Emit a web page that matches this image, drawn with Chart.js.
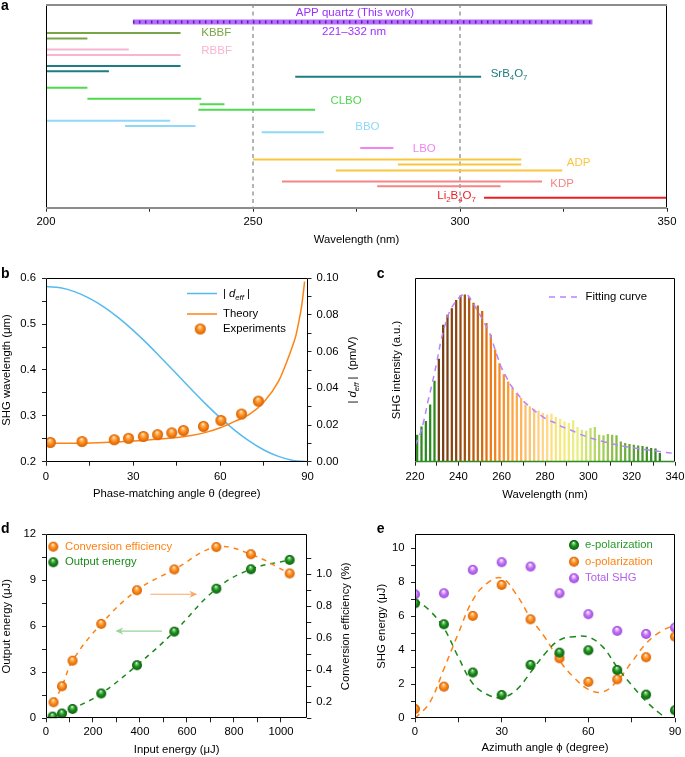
<!DOCTYPE html>
<html>
<head>
<meta charset="utf-8">
<script src="https://cdn.jsdelivr.net/npm/chart.js@4.4.1/dist/chart.umd.min.js"></script>
<style>
  body { margin: 0; background: #fff; }
  #wrap { position: relative; width: 685px; height: 757px; background: #fff; }
  canvas { position: absolute; }
</style>
</head>
<body>
<div id="wrap">
  <canvas id="chartA" width="685" height="250" style="left:0;top:0"></canvas>
  <canvas id="chartB" width="370" height="255" style="left:0;top:250px"></canvas>
  <canvas id="chartC" width="315" height="255" style="left:370px;top:250px"></canvas>
  <canvas id="chartD" width="370" height="252" style="left:0;top:505px"></canvas>
  <canvas id="chartE" width="315" height="252" style="left:370px;top:505px"></canvas>
</div>
<script>
// ---- panel a: phase-matching ranges (nm) ----
const crystalNames = ['KBBF', 'RBBF', 'SrB_4O_7', 'CLBO', 'BBO', 'LBO', 'ADP', 'KDP', 'Li_2B_4O_7'];
const segCrystal = [0, 0, 1, 1, 2, 2, 2, 3, 3, 3, 3, 4, 4, 4, 5, 6, 6, 6, 7, 7, 8];
const segStart = [200, 200, 200, 200, 200, 200, 260.2, 200, 210, 237.1, 236.8, 200, 219.1, 252.1, 275.9, 250, 285, 270, 257, 280, 305.8];
const segEnd = [232.5, 210, 220, 232.5, 232.5, 215.2, 305.1, 210, 237.5, 243.1, 265, 230, 236.1, 267.1, 283.9, 314.8, 314.8, 324.7, 319.8, 309.8, 350];
const segRow = [5.3, 6.3, 8.3, 9.3, 11.3, 12.3, 13.3, 15.3, 17.3, 18.3, 19.3, 21.3, 22.3, 23.4, 26.3, 28.4, 29.3, 30.4, 32.4, 33.3, 35.4];
const labelX = [237.5, 237.5, 307.4, 268.7, 274.7, 288.6, 325.8, 321.8, 294.5];
const labelRow = [5.3, 8.5, 12.8, 17.7, 22.4, 26.4, 29.0, 32.9, 35.1];
const appRange = [221, 332];
const appRow = 3.3;
const refLines = [250, 300];

// ---- panel b ----
const deffTheta = [0, 5, 10, 15, 20, 25, 30, 35, 40, 45, 50, 55, 60, 65, 70, 75, 80, 85, 90];
const deffVals = [0.0955, 0.0948, 0.0926, 0.0891, 0.0843, 0.0784, 0.0716, 0.0641, 0.056, 0.0478, 0.0395, 0.0314, 0.0239, 0.0171, 0.0112, 0.0064, 0.0029, 0.0007, 0];
const theoryTheta = [0, 10, 20, 30, 40, 45, 50, 55, 60, 65, 70, 75, 80, 83, 85, 86, 87, 88, 88.5, 89];
const theoryWl = [0.240, 0.240, 0.242, 0.245, 0.250, 0.253, 0.257, 0.264, 0.274, 0.288, 0.303, 0.330, 0.375, 0.420, 0.455, 0.475, 0.505, 0.540, 0.565, 0.593];
const expTheta = [1.5, 12.4, 23.5, 28.4, 33.5, 38.4, 43.3, 47.3, 54.2, 60.2, 67.3, 73.1];
const expWl = [0.242, 0.244, 0.248, 0.251, 0.255, 0.259, 0.263, 0.268, 0.277, 0.290, 0.304, 0.332];

// ---- panel c ----
const peakWl = [221, 223, 225, 227, 229, 231, 233, 235, 237, 239, 241, 243, 245, 247, 249, 251, 253, 255, 257, 259,
  261, 263, 265, 267, 269, 271, 273, 275, 277, 279, 281, 283, 285, 287, 289, 291, 293, 295, 297, 299,
  301, 303, 305, 307, 309, 311, 313, 315, 317, 319, 321, 323, 325, 327, 329, 331, 333];
const peakVal = [0.145, 0.19, 0.22, 0.31, 0.44, 0.56, 0.745, 0.80, 0.835, 0.88, 0.905, 0.91, 0.895, 0.865, 0.85, 0.82, 0.755, 0.69, 0.61, 0.535,
  0.475, 0.435, 0.40, 0.372, 0.345, 0.31, 0.30, 0.287, 0.278, 0.265, 0.255, 0.26, 0.242, 0.233, 0.218, 0.209, 0.224, 0.188, 0.173, 0.167,
  0.182, 0.187, 0.145, 0.142, 0.149, 0.145, 0.142, 0.109, 0.10, 0.095, 0.091, 0.087, 0.084, 0.08, 0.073, 0.07, 0.045];
const fitWl = [220, 222, 224, 226, 228, 230, 232, 234, 236, 238, 240, 242, 244, 246, 248, 250, 252, 254, 256, 258, 260, 262, 264, 266, 268, 270,
  273, 276, 279, 282, 285, 288, 291, 295, 299, 303, 307, 312, 317, 322, 327, 332, 336, 340];
const fitVal = [0.09, 0.14, 0.22, 0.33, 0.43, 0.54, 0.66, 0.75, 0.82, 0.86, 0.89, 0.91, 0.91, 0.88, 0.84, 0.80, 0.755, 0.715, 0.645, 0.575, 0.51, 0.465, 0.42, 0.39, 0.36, 0.33,
  0.30, 0.27, 0.245, 0.225, 0.21, 0.19, 0.178, 0.155, 0.137, 0.122, 0.109, 0.095, 0.083, 0.073, 0.065, 0.057, 0.05, 0.045];

// ---- panel d ----
const effInput = [32, 68, 113, 235, 387, 546, 725, 872, 1037];
const efficiency = [0.20, 0.30, 0.46, 0.69, 0.90, 1.03, 1.17, 1.125, 1.005];
const outInput = [28, 68, 113, 235, 387, 546, 725, 872, 1037];
const outputEnergy = [0.11, 0.31, 0.61, 1.62, 3.46, 5.65, 8.45, 9.72, 10.33];
const effArrow = [[444, 8.09], [644, 8.09]];
const outArrow = [[494, 5.69], [295, 5.69]];

// ---- panel e ----
const phi = [0, 10, 20, 30, 40, 50, 60, 70, 80, 90];
const ePol = [6.76, 5.53, 2.69, 1.37, 3.14, 3.86, 4.0, 2.84, 1.39, 0.47];
const oPol = [0.55, 1.86, 6.02, 7.84, 5.82, 3.53, 2.14, 2.29, 3.59, 4.8];
const totalShg = [7.29, 7.35, 8.73, 9.18, 8.92, 7.35, 6.12, 5.14, 4.96, 5.33];
const eFitPhi = [0, 5, 10, 15, 20, 25, 30, 35, 40, 45, 50, 55, 60, 65, 70, 75, 80, 85, 87];
const eFitVal = [7.0, 6.35, 5.3, 3.6, 2.05, 1.4, 1.22, 1.65, 2.7, 3.8, 4.6, 4.8, 4.78, 4.2, 3.0, 1.95, 1.0, 0.25, 0];
const oFitPhi = [0, 5, 10, 15, 20, 25, 30, 35, 40, 45, 50, 55, 60, 65, 70, 75, 80, 85, 90];
const oFitVal = [0, 0.9, 2.9, 5.0, 6.95, 7.95, 8.25, 7.3, 5.9, 4.75, 3.4, 2.4, 1.7, 1.55, 2.2, 3.3, 4.4, 5.1, 5.5];

// ---- styling ----
const FONT = "'Liberation Sans', Arial, Helvetica, sans-serif";
const FS = 11.3;
Chart.defaults.font.family = FONT;
Chart.defaults.font.size = FS;
Chart.defaults.color = '#000';
Chart.defaults.animation = false;
Chart.defaults.responsive = false;
Chart.defaults.plugins.legend.display = false;
Chart.defaults.plugins.tooltip.enabled = false;

const crystalColors = ['#7aa546', '#f9b4d0', '#1d7d80', '#4ed94e', '#8fd8f8', '#ef86ef', '#f9c640', '#f58585', '#ee1c24'];
const ORANGE = '#ff8214';
const GREEN = '#1a8a1a';
const PURPLE = '#b560ee';

function makeBall(base, light, dark, r) {
  const c = document.createElement('canvas');
  const s = Math.ceil(2 * r + 2);
  c.width = c.height = s;
  const g = c.getContext('2d');
  const cx = s / 2, cy = s / 2;
  const grad = g.createRadialGradient(cx - r * 0.1, cy - r * 0.5, 0, cx, cy + r * 0.1, r * 1.05);
  grad.addColorStop(0, '#ffffff');
  grad.addColorStop(0.2, light);
  grad.addColorStop(0.5, base);
  grad.addColorStop(1, dark);
  g.fillStyle = grad;
  g.beginPath();
  g.arc(cx, cy, r, 0, Math.PI * 2);
  g.fill();
  return c;
}
const ballOrangeB = makeBall('#ff8c1a', '#ffc27a', '#cc5800', 5.5);
const ballOrange = makeBall('#ff8c1a', '#ffc27a', '#cc5800', 5);
const ballGreen = makeBall('#1b8f1b', '#7ccf7c', '#0a560a', 5);
const ballPurple = makeBall('#c273f5', '#ecc8ff', '#9444d4', 5);

function isMult(v, m) {
  const q = v / m;
  return Math.abs(q - Math.round(q)) < 1e-6;
}

// linear axis with outward ticks, minor ticks every `step`, labels every `major`
function axis(o) {
  const show = o.ticks !== false;
  return {
    type: 'linear', position: o.position, min: o.min, max: o.max, reverse: !!o.reverse, offset: false,
    border: { display: false },
    grid: { display: show, drawOnChartArea: false, drawTicks: show, tickLength: 4, tickColor: '#222', tickWidth: 1, offset: false },
    ticks: show ? {
      stepSize: o.step, autoSkip: false, maxRotation: 0, minRotation: 0, padding: o.pad, color: '#000',
      callback: v => isMult(v, o.major) ? o.fmt(v) : ''
    } : { display: false },
    afterBuildTicks: s => { if (show) s.ticks = s.ticks.filter(t => isMult(t.value, o.step)); },
    title: o.title ? { display: true, text: o.title, color: '#000', padding: o.titlePad } : { display: false },
    afterFit: s => {
      if (s.isHorizontal()) s.height = o.size; else s.width = o.size;
      s.paddingLeft = 0; s.paddingRight = 0; s.paddingTop = 0; s.paddingBottom = 0;
    }
  };
}

function pts(xs, ys) {
  return xs.map((x, i) => ({ x: x, y: ys[i] }));
}

// text helpers
function subParts(str) {
  const parts = [];
  for (let i = 0; i < str.length; i++) {
    if (str[i] === '_') { parts.push({ t: str[i + 1], sub: true }); i++; }
    else if (parts.length && !parts[parts.length - 1].sub) parts[parts.length - 1].t += str[i];
    else parts.push({ t: str[i] });
  }
  return parts;
}
function partFont(p, size) {
  return (p.it ? 'italic ' : '') + (p.sub ? size * 0.68 : size) + 'px ' + FONT;
}
function drawParts(ctx, parts, x, y, size, color, align) {
  ctx.save();
  ctx.fillStyle = color;
  ctx.textBaseline = 'middle';
  ctx.textAlign = 'left';
  let w = 0;
  const ws = parts.map(p => { ctx.font = partFont(p, size); const m = ctx.measureText(p.t).width; w += m; return m; });
  let cx = align === 'center' ? x - w / 2 : x;
  parts.forEach((p, i) => {
    ctx.font = partFont(p, size);
    ctx.fillText(p.t, cx, p.sub ? y + size * 0.32 : y);
    cx += ws[i];
  });
  ctx.restore();
}
function drawRotated(ctx, parts, x, y, color) {
  ctx.save();
  ctx.translate(x, y);
  ctx.rotate(-Math.PI / 2);
  drawParts(ctx, parts, 0, 0, FS, color, 'center');
  ctx.restore();
}
function letter(ctx, t, x, y) {
  ctx.save();
  ctx.font = 'bold 14px ' + FONT;
  ctx.fillStyle = '#000';
  ctx.textBaseline = 'alphabetic';
  ctx.fillText(t, x, y);
  ctx.restore();
}
function frame(ctx, a, bottomColor) {
  const l = Math.round(a.left) + 0.5, r = Math.round(a.right) - 0.5;
  const t = Math.round(a.top) + 0.5, b = Math.round(a.bottom) - 0.5;
  ctx.save();
  ctx.lineWidth = 1;
  ctx.strokeStyle = '#000';
  ctx.beginPath();
  ctx.moveTo(l, b); ctx.lineTo(l, t); ctx.lineTo(r, t); ctx.lineTo(r, b);
  ctx.stroke();
  ctx.strokeStyle = bottomColor || '#000';
  ctx.lineWidth = bottomColor ? 1.5 : 1;
  ctx.beginPath();
  ctx.moveTo(l, b); ctx.lineTo(r, b);
  ctx.stroke();
  ctx.restore();
}
function legendLine(ctx, x1, x2, y, color, dash) {
  ctx.save();
  ctx.strokeStyle = color;
  ctx.lineWidth = 1.5;
  ctx.setLineDash(dash || []);
  ctx.beginPath();
  ctx.moveTo(x1, y); ctx.lineTo(x2, y);
  ctx.stroke();
  ctx.restore();
}
function legendText(ctx, t, x, y, color) {
  ctx.save();
  ctx.font = FS + 'px ' + FONT;
  ctx.fillStyle = color;
  ctx.textBaseline = 'middle';
  ctx.fillText(t, x, y);
  ctx.restore();
}
function ball(ctx, img, x, y) {
  ctx.drawImage(img, x - img.width / 2, y - img.height / 2);
}
const deffParts = [{ t: '| ' }, { t: 'd', it: true }, { t: 'eff', it: true, sub: true }, { t: ' |' }];

// ================= chart a =================
const aDatasets = [];
aDatasets.push({ data: pts(appRange, [appRow, appRow]), borderColor: '#5a1f9c', borderWidth: 3, borderDash: [1.5, 4.5], pointRadius: 0, showLine: true });
aDatasets.push({ data: pts(appRange, [appRow, appRow]), borderColor: '#b66cff', borderWidth: 5, pointRadius: 0, showLine: true });
segStart.forEach((s, i) => {
  aDatasets.push({
    data: pts([s, segEnd[i]], [segRow[i], segRow[i]]),
    borderColor: crystalColors[segCrystal[i]], borderWidth: 2, pointRadius: 0, showLine: true
  });
});
refLines.forEach(x => {
  aDatasets.push({ data: pts([x, x], [0, 37.2]), borderColor: '#6a6a6a', borderWidth: 1, borderDash: [4, 3.5], pointRadius: 0, showLine: true });
});

new Chart(document.getElementById('chartA'), {
  type: 'scatter',
  data: { datasets: aDatasets },
  options: {
    layout: { padding: { top: 4, right: 18, left: 0, bottom: 0 } },
    scales: {
      x: axis({ position: 'bottom', min: 200, max: 350, step: 25, major: 50, fmt: v => String(v), size: 42.3, pad: 3.5,
        title: 'Wavelength (nm)', titlePad: { top: 0, bottom: 3.2 } }),
      y: axis({ position: 'left', min: 0, max: 37.2, reverse: true, ticks: false, size: 46 })
    }
  },
  plugins: [{
    id: 'aExtras',
    afterDraw(chart) {
      const { ctx, chartArea: a, scales: { x, y } } = chart;
      ctx.save();
      ctx.lineWidth = 1;
      ctx.strokeStyle = '#000';
      ctx.beginPath();
      ctx.moveTo(Math.round(a.left) + 0.5, a.top); ctx.lineTo(Math.round(a.left) + 0.5, a.bottom);
      ctx.moveTo(Math.round(a.right) - 0.5, a.top); ctx.lineTo(Math.round(a.right) - 0.5, a.bottom);
      ctx.stroke();
      ctx.strokeStyle = '#8c8c8c';
      ctx.lineWidth = 2;
      ctx.beginPath();
      ctx.moveTo(a.left, Math.round(a.top) + 1); ctx.lineTo(a.right, Math.round(a.top) + 1);
      ctx.moveTo(a.left, Math.round(a.bottom)); ctx.lineTo(a.right, Math.round(a.bottom));
      ctx.stroke();
      ctx.restore();
      drawParts(ctx, [{ t: 'APP quartz (This work)' }], x.getPixelForValue(274.6), y.getPixelForValue(1.6), 11.5, '#9b30ff', 'center');
      drawParts(ctx, [{ t: '221\u2013332 nm' }], x.getPixelForValue(274.4), y.getPixelForValue(5.15), 11.5, '#9b30ff', 'center');
      crystalNames.forEach((n, i) => {
        drawParts(ctx, subParts(n), x.getPixelForValue(labelX[i]), y.getPixelForValue(labelRow[i]), 11.5, crystalColors[i], 'left');
      });
      letter(ctx, 'a', 1, 10);
    }
  }]
});

// ================= chart b =================
new Chart(document.getElementById('chartB'), {
  type: 'scatter',
  data: {
    datasets: [
      { data: pts(expTheta, expWl), yAxisID: 'y', pointStyle: ballOrangeB, pointRadius: 5.5, showLine: false },
      { data: pts(theoryTheta, theoryWl), yAxisID: 'y', borderColor: ORANGE, borderWidth: 1.5, pointRadius: 0, showLine: true, cubicInterpolationMode: 'monotone' },
      { data: pts(deffTheta, deffVals), yAxisID: 'y1', borderColor: '#55baf0', borderWidth: 1.5, pointRadius: 0, showLine: true, tension: 0.4 }
    ]
  },
  options: {
    layout: { padding: { top: 28.3, right: 0, left: 0, bottom: 0 } },
    scales: {
      x: axis({ position: 'bottom', min: 0, max: 90, step: 15, major: 30, fmt: v => String(v), size: 43.3, pad: 4.2,
        title: 'Phase-matching angle \u03b8 (degree)', titlePad: { top: 0, bottom: 4.2 } }),
      y: axis({ position: 'left', min: 0.2, max: 0.6, step: 0.05, major: 0.1, fmt: v => v.toFixed(1), size: 46, pad: 6,
        title: 'SHG wavelength (\u03bcm)', titlePad: { top: 0.2, bottom: 0 } }),
      y1: axis({ position: 'right', min: 0, max: 0.1, step: 0.01, major: 0.02, fmt: v => v.toFixed(2), size: 62.5, pad: 5 })
    }
  },
  plugins: [{
    id: 'bExtras',
    afterDraw(chart) {
      const { ctx, chartArea: a } = chart;
      frame(ctx, a);
      drawRotated(ctx, deffParts.concat([{ t: '  (pm/V)' }]), 353, (a.top + a.bottom) / 2, '#000');
      legendLine(ctx, 187, 217, 43.5, '#55baf0');
      drawParts(ctx, deffParts, 223, 44.3, FS, '#000', 'left');
      legendLine(ctx, 187, 217, 64, ORANGE);
      legendText(ctx, 'Theory', 223, 64, '#000');
      ball(ctx, ballOrangeB, 200.3, 79);
      legendText(ctx, 'Experiments', 223, 79, '#000');
      letter(ctx, 'b', 1, 28);
    }
  }]
});

// ================= chart c =================
const peakStops = [[221, '#2b8a1e'], [229.5, '#2b8a1e'], [230.5, '#6e3b12'], [239, '#8a4612'], [247, '#b85a0c'], [255, '#ee7a12'],
  [263, '#ff9a32'], [271, '#ffbd6a'], [279, '#ffd587'], [287, '#f8ea78'], [295, '#e6ef80'], [303, '#b8d865'], [311, '#8ec04a'],
  [321, '#5aa232'], [333, '#2f8020']];
function hexRgb(h) { return [1, 3, 5].map(i => parseInt(h.substr(i, 2), 16)); }
function colorAt(w) {
  for (let i = 0; i < peakStops.length - 1; i++) {
    const [w0, c0] = peakStops[i], [w1, c1] = peakStops[i + 1];
    if (w <= w1) {
      const f = Math.max(0, Math.min(1, (w - w0) / (w1 - w0)));
      const a = hexRgb(c0), b = hexRgb(c1);
      return 'rgb(' + a.map((v, k) => Math.round(v + (b[k] - v) * f)).join(',') + ')';
    }
  }
  return peakStops[peakStops.length - 1][1];
}

new Chart(document.getElementById('chartC'), {
  type: 'bar',
  data: {
    datasets: [
      { type: 'line', data: pts(fitWl, fitVal), borderColor: '#b884ff', borderWidth: 1.5, borderDash: [6, 5], pointRadius: 0, tension: 0.4 },
      { type: 'bar', data: pts(peakWl, peakVal), backgroundColor: peakWl.map(colorAt), barThickness: 1.6, borderWidth: 0 }
    ]
  },
  options: {
    layout: { padding: { top: 28.3, right: 10, left: 0, bottom: 0 } },
    scales: {
      x: axis({ position: 'bottom', min: 220, max: 340, step: 10, major: 20, fmt: v => String(v), size: 43.3, pad: 4.2,
        title: 'Wavelength (nm)', titlePad: { top: 0, bottom: 3.2 } }),
      y: axis({ position: 'left', min: 0, max: 1, ticks: false, size: 45, title: 'SHG intensity (a.u.)', titlePad: { top: 20.2, bottom: 0 } })
    }
  },
  plugins: [{
    id: 'cExtras',
    afterDraw(chart) {
      const { ctx, chartArea: a } = chart;
      frame(ctx, a, '#2e8a22');
      legendLine(ctx, 179, 208, 47, '#b884ff', [6, 5]);
      legendText(ctx, 'Fitting curve', 215.5, 47, '#000');
      letter(ctx, 'c', 6.7, 28.3);
    }
  }]
});

// ================= chart d =================
function arrow(ctx, xs, ys, from, to, color) {
  const x1 = xs.getPixelForValue(from[0]), y1 = ys.getPixelForValue(from[1]);
  const x2 = xs.getPixelForValue(to[0]), y2 = ys.getPixelForValue(to[1]);
  const dir = Math.sign(x2 - x1);
  ctx.save();
  ctx.strokeStyle = color;
  ctx.fillStyle = color;
  ctx.lineWidth = 1.2;
  ctx.beginPath();
  ctx.moveTo(x1, y1); ctx.lineTo(x2 - dir * 3, y2);
  ctx.stroke();
  ctx.beginPath();
  ctx.moveTo(x2, y2);
  ctx.lineTo(x2 - dir * 8, y2 - 3.5);
  ctx.lineTo(x2 - dir * 5.5, y2);
  ctx.lineTo(x2 - dir * 8, y2 + 3.5);
  ctx.closePath();
  ctx.fill();
  ctx.restore();
}

new Chart(document.getElementById('chartD'), {
  type: 'scatter',
  data: {
    datasets: [
      { data: pts(effInput, efficiency), yAxisID: 'y1', pointStyle: ballOrange, pointRadius: 5, showLine: false },
      { data: pts(outInput, outputEnergy), yAxisID: 'y', pointStyle: ballGreen, pointRadius: 5, showLine: false },
      { data: pts(effInput, efficiency), yAxisID: 'y1', borderColor: ORANGE, borderWidth: 1.5, borderDash: [5, 5], pointRadius: 0, showLine: true, tension: 0.4 },
      { data: pts(outInput, outputEnergy), yAxisID: 'y', borderColor: GREEN, borderWidth: 1.5, borderDash: [5, 5], pointRadius: 0, showLine: true, tension: 0.4 }
    ]
  },
  options: {
    layout: { padding: { top: 29.3, right: 0, left: 0, bottom: 0 } },
    scales: {
      x: axis({ position: 'bottom', min: 0, max: 1112, step: 100, major: 200, fmt: v => String(v), size: 38.7, pad: 2.6,
        title: 'Input energy (\u03bcJ)', titlePad: { top: 0, bottom: 0.2 } }),
      y: axis({ position: 'left', min: 0, max: 12, step: 1.5, major: 3, fmt: v => String(v), size: 46, pad: 6,
        title: 'Output energy (\u03bcJ)', titlePad: { top: 0.2, bottom: 0 } }),
      y1: axis({ position: 'right', min: 0.1, max: 1.25, step: 0.1, major: 0.2, fmt: v => v.toFixed(1), size: 62.7, pad: 5 })
    }
  },
  plugins: [{
    id: 'dExtras',
    afterDraw(chart) {
      const { ctx, chartArea: a, scales: { x, y } } = chart;
      frame(ctx, a);
      arrow(ctx, x, y, effArrow[0], effArrow[1], '#f9a86a');
      arrow(ctx, x, y, outArrow[0], outArrow[1], '#98d498');
      drawRotated(ctx, [{ t: 'Conversion efficiency (%)' }], 345.7, (a.top + a.bottom) / 2, '#000');
      ball(ctx, ballOrange, 53.3, 41.7);
      legendText(ctx, 'Conversion efficiency', 65, 41.7, ORANGE);
      ball(ctx, ballGreen, 53.3, 57.3);
      legendText(ctx, 'Output energy', 65, 57.3, GREEN);
      letter(ctx, 'd', 1, 27.7);
    }
  }]
});

// ================= chart e =================
new Chart(document.getElementById('chartE'), {
  type: 'scatter',
  data: {
    datasets: [
      { data: pts(phi, ePol), pointStyle: ballGreen, pointRadius: 5, showLine: false },
      { data: pts(phi, oPol), pointStyle: ballOrange, pointRadius: 5, showLine: false },
      { data: pts(phi, totalShg), pointStyle: ballPurple, pointRadius: 5, showLine: false },
      { data: pts(eFitPhi, eFitVal), borderColor: GREEN, borderWidth: 1.5, borderDash: [6, 5], pointRadius: 0, showLine: true, tension: 0.4 },
      { data: pts(oFitPhi, oFitVal), borderColor: ORANGE, borderWidth: 1.5, borderDash: [6, 5], pointRadius: 0, showLine: true, tension: 0.4 }
    ]
  },
  options: {
    layout: { padding: { top: 29.3, right: 10, left: 0, bottom: 0 } },
    scales: {
      x: axis({ position: 'bottom', min: 0, max: 90, step: 15, major: 30, fmt: v => String(v), size: 38.7, pad: 2.6,
        title: 'Azimuth angle \u03d5 (degree)', titlePad: { top: 0, bottom: 1.9 } }),
      y: axis({ position: 'left', min: 0, max: 10.82, step: 1, major: 2, fmt: v => String(v), size: 45, pad: 6.5,
        title: 'SHG energy (\u03bcJ)', titlePad: { top: 4.9, bottom: 0 } })
    }
  },
  plugins: [{
    id: 'eExtras',
    afterDraw(chart) {
      const { ctx, chartArea: a } = chart;
      frame(ctx, a);
      ball(ctx, ballGreen, 204, 40);
      legendText(ctx, 'e-polarization', 215, 40, '#2a9a2a');
      ball(ctx, ballOrange, 204, 56.7);
      legendText(ctx, 'o-polarization', 215, 56.7, ORANGE);
      ball(ctx, ballPurple, 204, 73.3);
      legendText(ctx, 'Total SHG', 215, 73.3, PURPLE);
      letter(ctx, 'e', 6.7, 27.7);
    }
  }]
});
</script>
</body>
</html>
